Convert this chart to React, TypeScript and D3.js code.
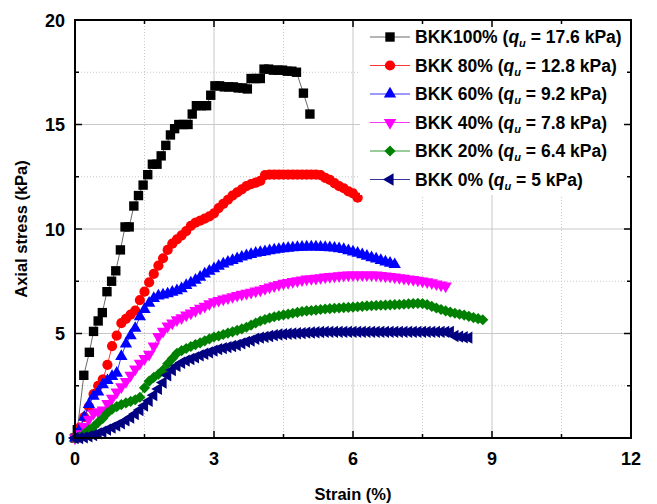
import React from "react";
import * as d3 from "d3";

type Pt = [number, number];

const xTicks = [0, 3, 6, 9, 12];
const yTicks = [0, 5, 10, 15, 20];
const xMinor = [1.5, 4.5, 7.5, 10.5];
const yMinor = [2.5, 7.5, 12.5, 17.5];

const bkk100: Pt[] = [[0,0],[0.05,0.4],[0.19,3.0],[0.31,4.1],[0.4,5.1],[0.5,5.6],[0.59,6.0],[0.69,7.0],[0.79,7.5],[0.88,8.0],[0.98,9.0],[1.08,10.1],[1.17,10.1],[1.27,11.1],[1.37,11.6],[1.47,12.1],[1.57,12.6],[1.67,13.1],[1.77,13.1],[1.86,13.5],[1.96,14.0],[2.06,14.5],[2.15,14.8],[2.24,15.0],[2.34,15.0],[2.44,15.0],[2.53,15.5],[2.62,15.9],[2.73,15.9],[2.84,15.9],[2.93,16.4],[3.02,16.85],[3.12,16.85],[3.22,16.8],[3.32,16.8],[3.42,16.8],[3.52,16.75],[3.62,16.75],[3.72,16.7],[3.8,17.2],[3.9,17.2],[4.0,17.2],[4.08,17.65],[4.18,17.65],[4.28,17.6],[4.38,17.6],[4.48,17.6],[4.58,17.55],[4.68,17.55],[4.78,17.5],[4.93,16.5],[5.07,15.5]];

const bkk80: Pt[] = [[0,0],[0.1,0.5],[0.2,1.0],[0.3,1.5],[0.4,2.1],[0.5,2.5],[0.6,2.8],[0.7,3.5],[0.8,4.4],[0.9,4.9],[1.0,5.5],[1.1,5.7],[1.2,5.9],[1.3,6.1],[1.4,6.6],[1.5,7.0],[1.6,7.45],[1.7,7.85],[1.8,8.25],[1.9,8.6],[2.0,9.0],[2.1,9.3],[2.2,9.5],[2.3,9.7],[2.4,9.9],[2.5,10.15],[2.6,10.3],[2.7,10.4],[2.8,10.5],[2.9,10.6],[3.0,10.75],[3.1,11.0],[3.2,11.2],[3.3,11.4],[3.4,11.6],[3.5,11.75],[3.6,11.9],[3.7,12.05],[3.8,12.15],[3.9,12.22],[4.0,12.3],[4.1,12.58],[4.2,12.6],[4.3,12.6],[4.4,12.6],[4.5,12.6],[4.6,12.6],[4.7,12.6],[4.8,12.6],[4.9,12.6],[5.0,12.6],[5.1,12.6],[5.2,12.6],[5.3,12.58],[5.4,12.45],[5.5,12.35],[5.6,12.2],[5.7,12.05],[5.8,11.95],[5.9,11.8],[6.0,11.7],[6.1,11.5]];

const bkk60: Pt[] = [[0,0],[0.1,0.4],[0.2,1.0],[0.3,1.6],[0.4,2.0],[0.5,2.2],[0.6,2.55],[0.7,2.75],[0.8,2.95],[0.9,3.1],[1.0,3.9],[1.1,4.5],[1.2,4.9],[1.3,5.25],[1.4,5.8],[1.5,6.15],[1.6,6.45],[1.7,6.68],[1.8,6.8],[1.9,6.85],[2.0,6.9],[2.1,6.98],[2.2,7.05],[2.3,7.15],[2.4,7.3],[2.5,7.42],[2.6,7.55],[2.7,7.7],[2.8,7.85],[2.9,7.98],[3.0,8.1],[3.1,8.22],[3.2,8.33],[3.3,8.42],[3.4,8.5],[3.5,8.58],[3.6,8.66],[3.7,8.72],[3.8,8.78],[3.9,8.84],[4.0,8.88],[4.1,8.92],[4.2,8.96],[4.3,9.0],[4.4,9.03],[4.5,9.06],[4.6,9.08],[4.7,9.1],[4.8,9.12],[4.9,9.13],[5.0,9.14],[5.1,9.14],[5.2,9.14],[5.3,9.13],[5.4,9.12],[5.5,9.11],[5.6,9.09],[5.7,9.06],[5.8,9.02],[5.9,8.96],[6.0,8.9],[6.1,8.84],[6.2,8.77],[6.3,8.7],[6.4,8.63],[6.5,8.57],[6.6,8.5],[6.7,8.43],[6.8,8.37],[6.9,8.3]];

const bkk40: Pt[] = [[0,0],[0.1,0.2],[0.2,0.55],[0.3,0.9],[0.4,1.18],[0.5,1.25],[0.6,1.34],[0.7,1.65],[0.8,1.9],[0.9,2.2],[1.0,2.45],[1.1,2.7],[1.2,3.0],[1.3,3.3],[1.4,3.57],[1.5,3.8],[1.6,4.0],[1.7,4.4],[1.8,4.85],[1.9,5.1],[2.0,5.35],[2.1,5.5],[2.2,5.65],[2.3,5.75],[2.4,5.88],[2.5,5.98],[2.6,6.1],[2.7,6.2],[2.8,6.3],[2.9,6.42],[3.0,6.52],[3.1,6.58],[3.2,6.65],[3.3,6.7],[3.4,6.76],[3.5,6.82],[3.6,6.87],[3.7,6.92],[3.8,6.97],[3.9,7.03],[4.0,7.08],[4.1,7.15],[4.2,7.22],[4.3,7.28],[4.4,7.34],[4.5,7.4],[4.6,7.44],[4.7,7.48],[4.8,7.52],[4.9,7.56],[5.0,7.6],[5.1,7.62],[5.2,7.64],[5.3,7.67],[5.4,7.7],[5.5,7.72],[5.6,7.74],[5.7,7.76],[5.8,7.78],[5.9,7.79],[6.0,7.8],[6.1,7.8],[6.2,7.8],[6.3,7.8],[6.4,7.8],[6.5,7.79],[6.6,7.77],[6.7,7.75],[6.8,7.73],[6.9,7.7],[7.0,7.67],[7.1,7.64],[7.2,7.61],[7.3,7.58],[7.4,7.55],[7.5,7.51],[7.6,7.47],[7.7,7.42],[7.8,7.37],[7.9,7.32],[8.0,7.27]];

const bkk20: Pt[] = [[0,0],[0.1,0.06],[0.2,0.2],[0.3,0.38],[0.4,0.54],[0.5,0.75],[0.6,0.94],[0.7,1.2],[0.8,1.38],[0.9,1.5],[1.0,1.6],[1.1,1.68],[1.2,1.75],[1.3,1.83],[1.4,1.95],[1.5,2.4],[1.6,2.72],[1.7,2.9],[1.8,3.05],[1.9,3.25],[2.0,3.55],[2.1,3.8],[2.2,4.05],[2.3,4.18],[2.4,4.28],[2.5,4.38],[2.6,4.47],[2.7,4.55],[2.8,4.65],[2.9,4.74],[3.0,4.83],[3.1,4.88],[3.2,4.95],[3.3,5.02],[3.4,5.08],[3.5,5.15],[3.6,5.22],[3.7,5.3],[3.8,5.4],[3.9,5.5],[4.0,5.6],[4.1,5.67],[4.2,5.74],[4.3,5.8],[4.4,5.85],[4.5,5.89],[4.6,5.93],[4.7,5.97],[4.8,6.01],[4.9,6.05],[5.0,6.08],[5.1,6.1],[5.2,6.12],[5.3,6.15],[5.4,6.17],[5.5,6.19],[5.6,6.21],[5.7,6.22],[5.8,6.24],[5.9,6.25],[6.0,6.26],[6.1,6.28],[6.2,6.3],[6.3,6.32],[6.4,6.33],[6.5,6.34],[6.6,6.35],[6.7,6.36],[6.8,6.37],[6.9,6.38],[7.0,6.39],[7.1,6.4],[7.2,6.42],[7.3,6.43],[7.4,6.44],[7.5,6.43],[7.6,6.38],[7.7,6.3],[7.8,6.22],[7.9,6.15],[8.0,6.08],[8.1,6.02],[8.2,5.97],[8.3,5.92],[8.4,5.88],[8.5,5.82],[8.6,5.76],[8.7,5.71],[8.8,5.66]];

const bkk0: Pt[] = [[0,0],[0.1,0],[0.2,0.03],[0.3,0.08],[0.4,0.14],[0.5,0.22],[0.6,0.3],[0.7,0.4],[0.8,0.5],[0.9,0.6],[1.0,0.7],[1.1,0.84],[1.2,0.98],[1.3,1.15],[1.4,1.34],[1.5,1.55],[1.6,1.78],[1.7,2.05],[1.8,2.35],[1.9,2.65],[2.0,3.0],[2.1,3.25],[2.2,3.45],[2.3,3.6],[2.4,3.7],[2.5,3.78],[2.6,3.86],[2.7,3.95],[2.8,4.03],[2.9,4.1],[3.0,4.18],[3.1,4.25],[3.2,4.3],[3.3,4.35],[3.4,4.4],[3.5,4.45],[3.6,4.53],[3.7,4.6],[3.8,4.66],[3.9,4.75],[4.0,4.8],[4.1,4.84],[4.2,4.88],[4.3,4.92],[4.4,4.95],[4.5,4.97],[4.6,4.99],[4.7,5.0],[4.8,5.01],[4.9,5.02],[5.0,5.04],[5.1,5.05],[5.2,5.06],[5.3,5.07],[5.4,5.08],[5.5,5.08],[5.6,5.08],[5.7,5.08],[5.8,5.08],[5.9,5.08],[6.0,5.08],[6.1,5.08],[6.2,5.08],[6.3,5.08],[6.4,5.08],[6.5,5.08],[6.6,5.08],[6.7,5.08],[6.8,5.08],[6.9,5.08],[7.0,5.08],[7.1,5.08],[7.2,5.08],[7.3,5.08],[7.4,5.08],[7.5,5.08],[7.6,5.08],[7.7,5.08],[7.8,5.08],[7.9,5.08],[8.0,5.08],[8.1,5.08],[8.2,4.88],[8.3,4.85],[8.4,4.82],[8.5,4.8]];

const seriesLabels = ["BKK100%", "BKK 80%", "BKK 60%", "BKK 40%", "BKK 20%", "BKK 0%"];
const quValues = ["17.6", "12.8", "9.2", "7.8", "6.4", "5"];
const seriesColors = ["#000000", "#ff0000", "#0000ff", "#ff00ff", "#008000", "#000080"];
const seriesShapes = ["square", "circle", "up", "down", "diamond", "left"];
const seriesData = [bkk100, bkk80, bkk60, bkk40, bkk20, bkk0];

const FONT = "'Liberation Sans', Arial, Helvetica, sans-serif";

function markerPath(shape: string): { d: string; rot: number } {
  switch (shape) {
    case "square":
      return { d: d3.symbol(d3.symbolSquare, 88)() as string, rot: 0 };
    case "circle":
      return { d: d3.symbol(d3.symbolCircle, 82)() as string, rot: 0 };
    case "up":
      return { d: d3.symbol(d3.symbolTriangle, 66)() as string, rot: 0 };
    case "down":
      return { d: d3.symbol(d3.symbolTriangle, 66)() as string, rot: 180 };
    case "diamond":
      return { d: d3.symbol(d3.symbolSquare, 62)() as string, rot: 45 };
    default:
      return { d: d3.symbol(d3.symbolTriangle, 66)() as string, rot: -90 };
  }
}

export default function App() {
  const W = 657, H = 504;
  const x = d3.scaleLinear().domain([0, 12]).range([75, 631]);
  const y = d3.scaleLinear().domain([0, 20]).range([438, 20]);
  const line = d3.line<Pt>().x((d) => x(d[0])).y((d) => y(d[1]));
  const [x0, x1] = x.range();
  const [y0, y1] = y.range();

  const drawOrder = [0, 1, 2, 3, 4, 5];
  const legTop = 37, legStep = 28.5;

  return (
    <svg width={W} height={H} style={{ position: "absolute", left: 0, top: 0, background: "#fff" }} fontFamily={FONT}>
      <rect x={0} y={0} width={W} height={H} fill="#fff" />
      {/* grid */}
      {xTicks.slice(1, -1).map((t) => (
        <line key={"gx" + t} x1={x(t)} x2={x(t)} y1={y0} y2={y1} stroke="#c8c8c8" strokeWidth={1} />
      ))}
      {yTicks.slice(1, -1).map((t) => (
        <line key={"gy" + t} x1={x0} x2={x1} y1={y(t)} y2={y(t)} stroke="#c8c8c8" strokeWidth={1} />
      ))}
      {xMinor.map((t) => (
        <line key={"mx" + t} x1={x(t)} x2={x(t)} y1={y0} y2={y1} stroke="#c8c8c8" strokeWidth={1} strokeDasharray="1,2" />
      ))}
      {yMinor.map((t) => (
        <line key={"my" + t} x1={x0} x2={x1} y1={y(t)} y2={y(t)} stroke="#c8c8c8" strokeWidth={1} strokeDasharray="1,2" />
      ))}

      {/* series */}
      {drawOrder.map((i) => {
        const m = markerPath(seriesShapes[i]);
        return (
          <g key={"s" + i}>
            <path d={line(seriesData[i]) as string} fill="none" stroke={i === 0 ? "#444" : seriesColors[i]} strokeWidth={0.8} />
            {seriesData[i].map((p, j) => (
              <path key={j} d={m.d} fill={seriesColors[i]} transform={`translate(${x(p[0])},${y(p[1])}) rotate(${m.rot})`} />
            ))}
          </g>
        );
      })}

      {/* legend */}
      <rect x={360} y={21} width={270} height={174} fill="#fff" />
      {seriesLabels.map((lab, i) => {
        const m = markerPath(seriesShapes[i]);
        const ly = legTop + i * legStep;
        return (
          <g key={"l" + i}>
            <line x1={370} x2={410} y1={ly} y2={ly} stroke={i === 0 ? "#444" : seriesColors[i]} strokeWidth={0.8} />
            <path d={m.d} fill={seriesColors[i]} transform={`translate(390,${ly}) rotate(${m.rot})`} />
            <text x={415} y={ly + 6} fontSize={17.5} fontWeight="bold" fill="#000">
              {lab} (<tspan fontStyle="italic">q</tspan>
              <tspan fontStyle="italic" fontSize={11} dy={4}>u</tspan>
              <tspan dy={-4}> = {quValues[i]} kPa)</tspan>
            </text>
          </g>
        );
      })}

      {/* ticks */}
      {xTicks.map((t) => (
        <g key={"tx" + t}>
          <line x1={x(t)} x2={x(t)} y1={y0} y2={y0 - 7} stroke="#000" strokeWidth={1.5} />
          <line x1={x(t)} x2={x(t)} y1={y1} y2={y1 + 7} stroke="#000" strokeWidth={1.5} />
          <text x={x(t)} y={465} textAnchor="middle" fontSize={18} fontWeight="bold">{t}</text>
        </g>
      ))}
      {xMinor.map((t) => (
        <g key={"tmx" + t}>
          <line x1={x(t)} x2={x(t)} y1={y0} y2={y0 - 4} stroke="#000" strokeWidth={1.5} />
          <line x1={x(t)} x2={x(t)} y1={y1} y2={y1 + 4} stroke="#000" strokeWidth={1.5} />
        </g>
      ))}
      {yTicks.map((t) => (
        <g key={"ty" + t}>
          <line x1={x0} x2={x0 + 7} y1={y(t)} y2={y(t)} stroke="#000" strokeWidth={1.5} />
          <line x1={x1} x2={x1 - 7} y1={y(t)} y2={y(t)} stroke="#000" strokeWidth={1.5} />
          <text x={65} y={y(t) + 6.5} textAnchor="end" fontSize={18} fontWeight="bold">{t}</text>
        </g>
      ))}
      {yMinor.map((t) => (
        <g key={"tmy" + t}>
          <line x1={x0} x2={x0 + 4} y1={y(t)} y2={y(t)} stroke="#000" strokeWidth={1.5} />
          <line x1={x1} x2={x1 - 4} y1={y(t)} y2={y(t)} stroke="#000" strokeWidth={1.5} />
        </g>
      ))}

      {/* frame */}
      <rect x={x0} y={y1} width={x1 - x0} height={y0 - y1} fill="none" stroke="#000" strokeWidth={2} />

      {/* axis titles */}
      <text x={(x0 + x1) / 2} y={500} textAnchor="middle" fontSize={16.5} fontWeight="bold">Strain (%)</text>
      <text transform={`translate(27,${(y0 + y1) / 2}) rotate(-90)`} textAnchor="middle" fontSize={16.5} fontWeight="bold">Axial stress (kPa)</text>
    </svg>
  );
}
